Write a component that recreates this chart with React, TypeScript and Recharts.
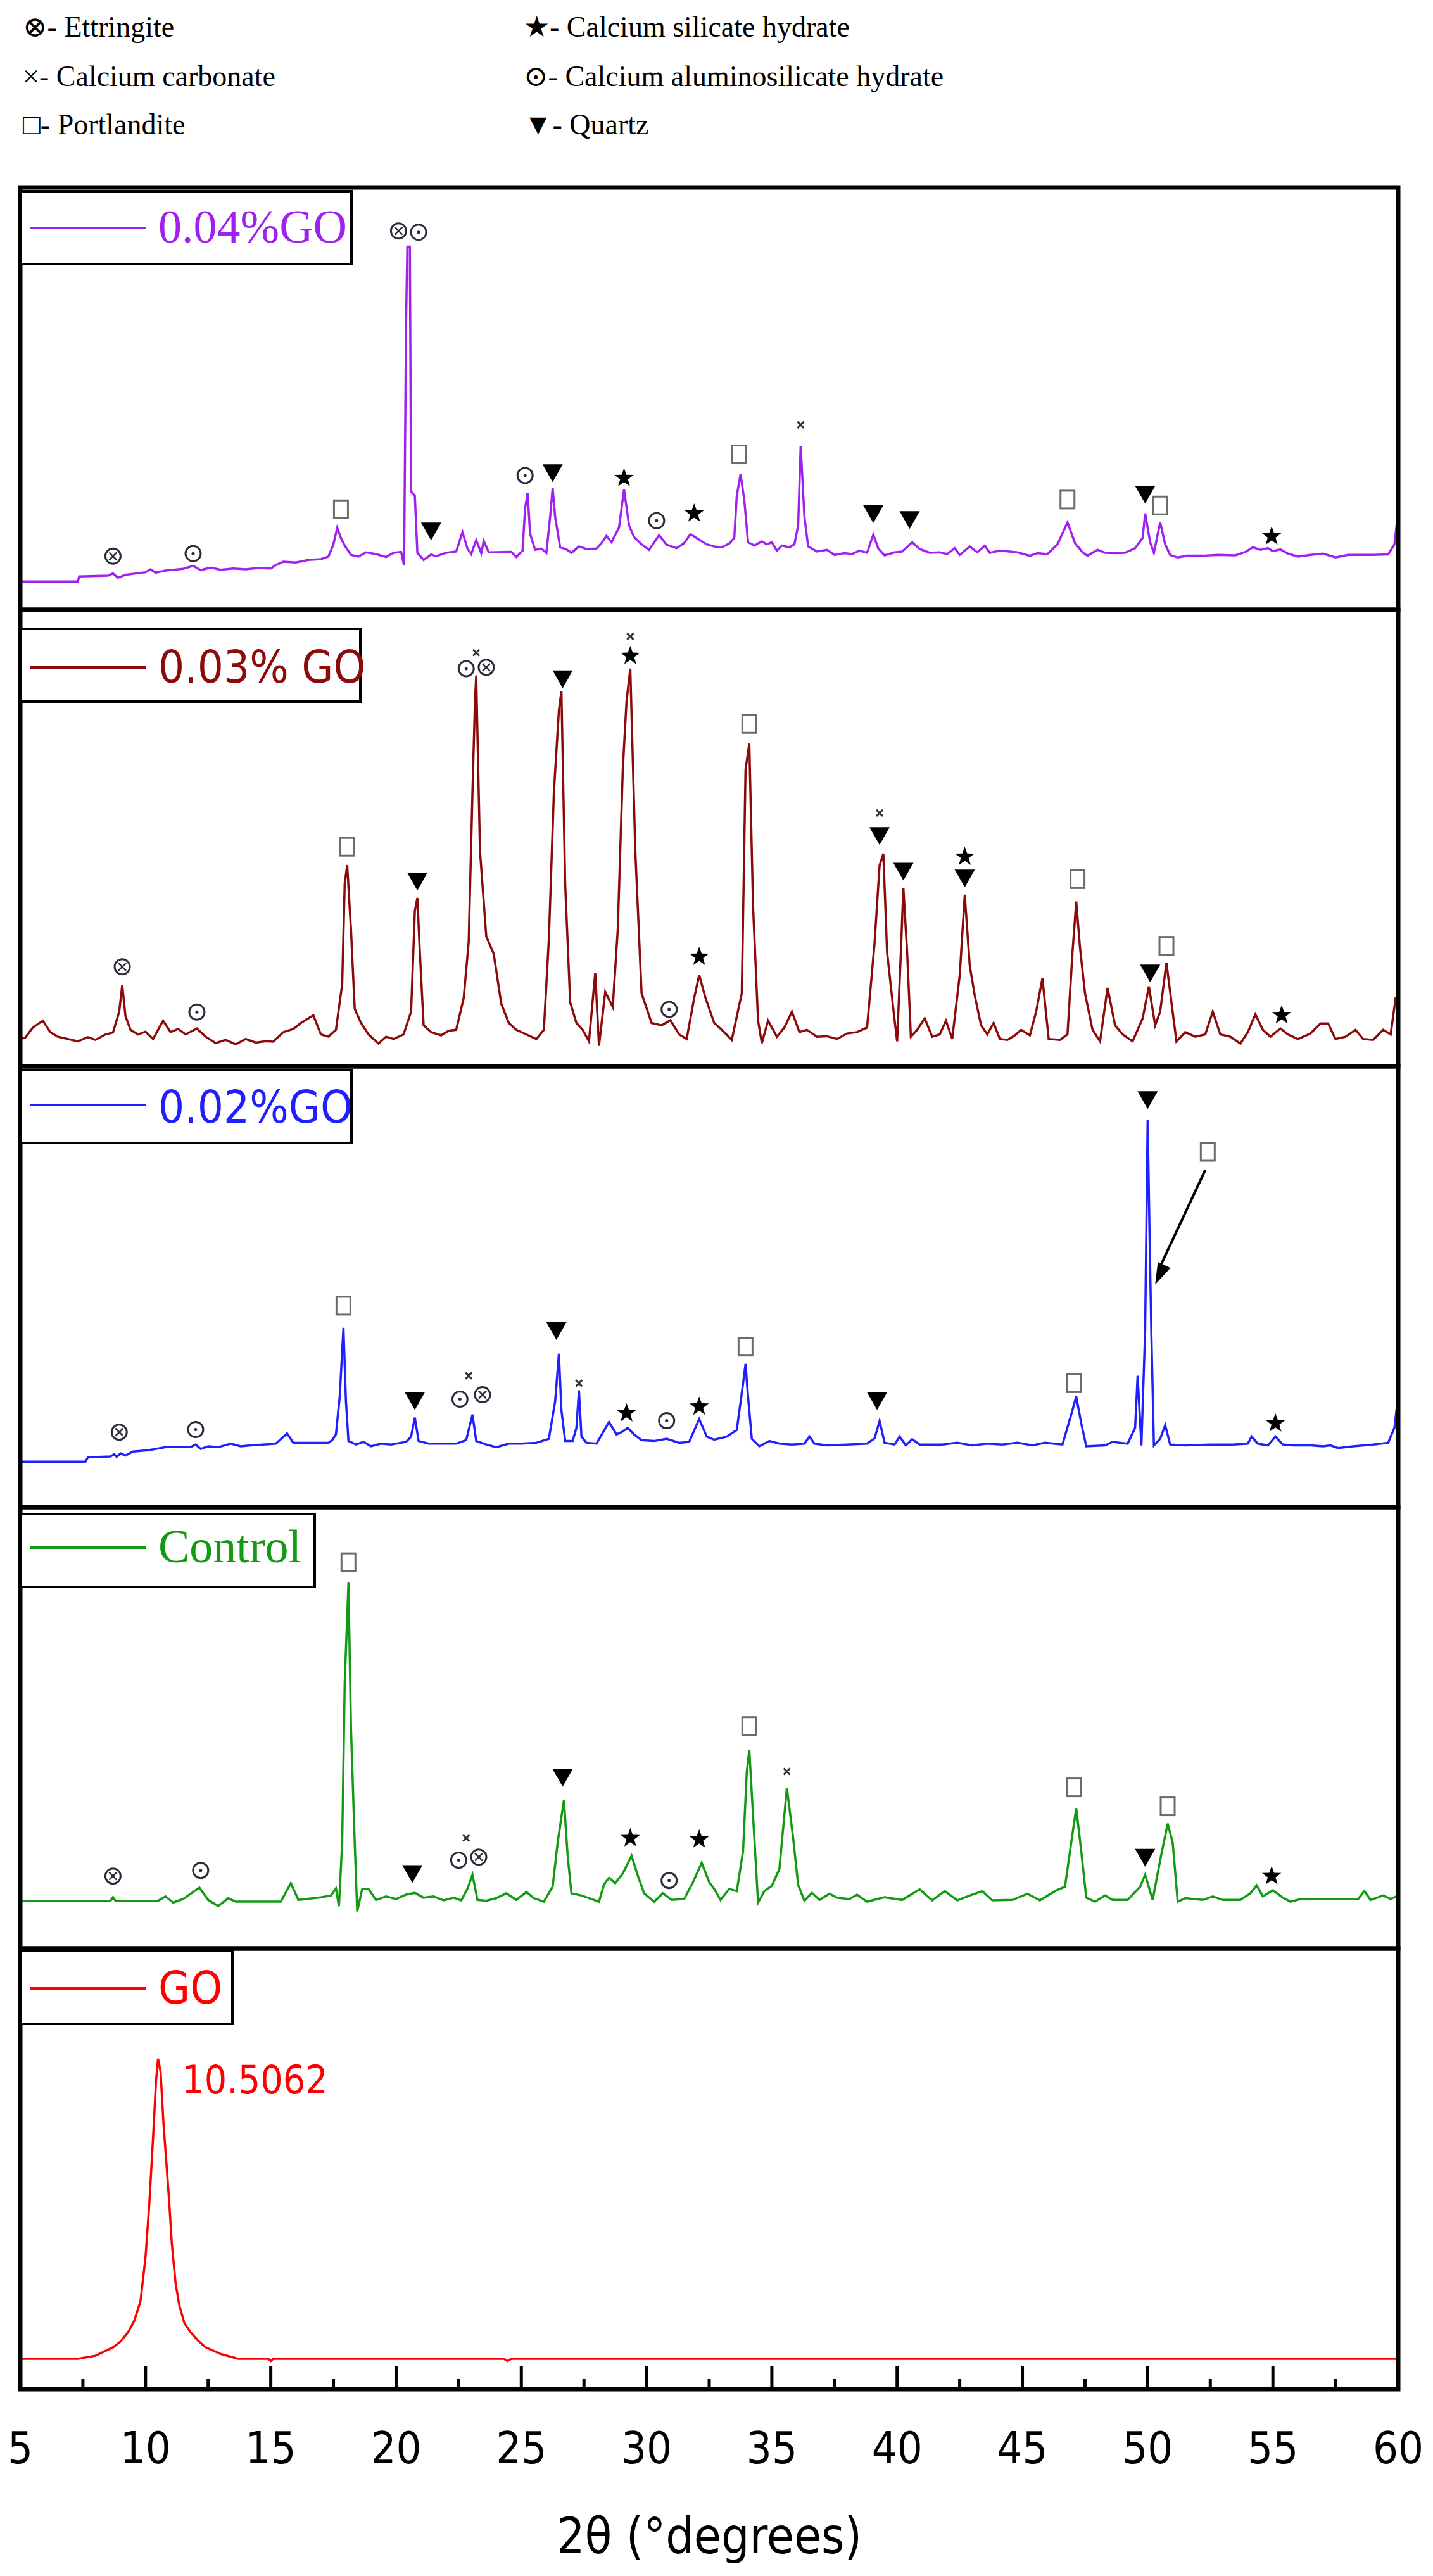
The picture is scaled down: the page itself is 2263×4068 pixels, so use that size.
import React from "react";
import { ComposedChart, Line, Scatter, XAxis, YAxis, ReferenceLine } from "recharts";

const NARROW = "'Liberation Sans Narrow', 'DejaVu Sans Condensed', 'Arial Narrow', sans-serif";
const SERIF = "'Liberation Serif', 'DejaVu Serif', serif";

// 2θ ticks: majors every 5°, minors halfway
const TICKS = [5, 7.5, 10, 12.5, 15, 17.5, 20, 22.5, 25, 27.5, 30, 32.5, 35, 37.5, 40, 42.5, 45, 47.5, 50, 52.5, 55, 57.5, 60];

// traces: [2θ, relative intensity (0..100 of panel height)]
const GO04: [number, number][] = [
  [5, 6.7], [7.3, 6.7], [7.35, 7.9], [8.5, 8.1], [8.7, 8.6], [8.9, 7.6], [9.2, 8.3], [9.6, 8.6], [10, 8.9], [10.2, 9.6],
  [10.4, 8.8], [10.8, 9.3], [11.5, 9.7], [11.9, 10.4], [12.2, 9.4], [12.6, 10.0], [13, 9.5], [13.5, 9.8], [14, 9.6], [14.5, 9.9],
  [15, 9.8], [15.2, 10.6], [15.5, 11.4], [16, 11.2], [16.5, 11.8], [17, 12.0], [17.3, 12.6], [17.5, 15.5], [17.65, 19.4], [17.8, 17.0],
  [17.95, 15.2], [18.2, 13.0], [18.5, 12.6], [18.8, 13.6], [19.2, 13.2], [19.6, 12.5], [19.9, 13.5], [20.2, 13.7], [20.32, 10.5], [20.4, 68],
  [20.45, 86], [20.55, 86], [20.6, 28], [20.75, 27], [20.85, 13.5], [21.1, 11.8], [21.4, 13.1], [21.6, 12.7], [22, 13.5], [22.4, 13.8],
  [22.65, 18.4], [22.85, 14.5], [23.0, 13.2], [23.2, 16.5], [23.4, 13.4], [23.5, 16.3], [23.7, 13.6], [24.6, 13.7], [24.8, 12.5], [25.05, 14.0],
  [25.15, 24], [25.25, 27.7], [25.35, 18], [25.55, 14.2], [25.8, 14.5], [26.0, 13.5], [26.15, 22], [26.25, 28.8], [26.35, 22], [26.55, 14.8],
  [26.8, 14.3], [27, 13.5], [27.3, 15], [27.6, 14.4], [28.0, 14.5], [28.2, 15.8], [28.4, 17.5], [28.6, 16.0], [28.9, 19.5], [29.1, 28.5],
  [29.3, 20.0], [29.5, 17.2], [29.8, 15.5], [30.1, 14.2], [30.5, 17.7], [30.8, 15.4], [31.2, 14.6], [31.5, 15.8], [31.75, 17.9], [32.1, 16.6],
  [32.4, 15.5], [32.7, 15.0], [33.0, 14.8], [33.3, 15.7], [33.5, 17.0], [33.6, 27], [33.75, 32.1], [33.9, 26], [34.05, 16.0], [34.3, 15.2],
  [34.6, 16.2], [34.8, 15.5], [35.0, 16.0], [35.2, 14.0], [35.4, 15.2], [35.7, 14.8], [35.9, 15.5], [36.05, 20], [36.15, 38.8], [36.3, 22],
  [36.45, 15.0], [36.8, 13.8], [37.2, 14.2], [37.5, 13.0], [37.9, 13.4], [38.2, 13.2], [38.5, 14.0], [38.8, 13.5], [39.05, 17.8], [39.25, 14.5],
  [39.5, 12.9], [39.9, 13.6], [40.2, 13.8], [40.6, 16.0], [40.9, 14.4], [41.3, 13.5], [41.7, 13.6], [42.0, 13.2], [42.3, 14.6], [42.5, 13.0],
  [42.9, 15.0], [43.2, 13.6], [43.5, 15.2], [43.7, 13.5], [44.1, 14.0], [44.8, 13.6], [45.3, 12.8], [45.6, 13.4], [46.0, 13.2], [46.4, 15.5],
  [46.8, 20.7], [47.1, 15.8], [47.4, 13.6], [47.6, 12.8], [48.0, 14.2], [48.3, 13.5], [48.7, 13.4], [49.1, 13.5], [49.5, 14.6], [49.8, 17.0],
  [49.9, 22.8], [50.1, 16.0], [50.25, 13.5], [50.5, 20.7], [50.7, 15.5], [50.9, 13.0], [51.2, 12.4], [51.6, 12.8], [52.2, 12.8], [52.8, 13.0],
  [53.5, 12.9], [53.9, 13.7], [54.2, 14.8], [54.5, 14.2], [54.8, 14.6], [55.0, 13.9], [55.3, 14.3], [55.6, 13.3], [56.0, 12.6], [56.5, 13.0],
  [57.0, 13.3], [57.5, 12.4], [58.0, 13.0], [59.0, 13.0], [59.6, 13.1], [59.85, 15.5], [59.95, 20.7], [60, 20.7],
];

const GO03: [number, number][] = [
  [5.0, 6.0], [5.2, 6.3], [5.5, 8.5], [5.9, 10.0], [6.2, 7.5], [6.5, 6.5], [6.9, 6.0], [7.3, 5.5], [7.7, 6.4], [8.0, 5.8],
  [8.4, 7.0], [8.7, 7.4], [8.95, 12], [9.07, 17.8], [9.2, 11], [9.4, 8.0], [9.7, 7.0], [10.0, 7.6], [10.3, 6.0], [10.7, 10.0],
  [11.0, 7.5], [11.3, 8.2], [11.6, 7.0], [12.05, 8.3], [12.4, 6.5], [12.8, 5.1], [13.2, 5.8], [13.6, 4.8], [14.0, 6.0], [14.4, 5.2],
  [14.8, 5.5], [15.1, 5.4], [15.5, 7.5], [15.9, 8.2], [16.2, 9.5], [16.7, 11.2], [17.0, 7.0], [17.3, 6.5], [17.6, 8.0], [17.85, 18],
  [17.95, 40], [18.05, 44.1], [18.2, 30], [18.35, 12.6], [18.6, 9.5], [18.9, 7.0], [19.3, 5.0], [19.6, 6.5], [19.9, 6.0], [20.3, 7.0],
  [20.6, 12], [20.75, 34], [20.85, 36.9], [20.95, 25], [21.1, 9.0], [21.4, 7.5], [21.8, 6.8], [22.1, 7.8], [22.4, 8.0], [22.7, 15],
  [22.9, 27.3], [23.05, 60], [23.15, 80], [23.2, 85.6], [23.35, 47.2], [23.6, 28.5], [23.9, 24.6], [24.2, 13.7], [24.5, 9.5], [24.8, 8.0],
  [25.2, 7.0], [25.6, 6.0], [25.9, 8.0], [26.1, 28], [26.3, 60], [26.5, 78], [26.6, 82.2], [26.75, 40], [26.95, 14], [27.2, 9.5],
  [27.45, 8.0], [27.7, 5.5], [27.95, 20.5], [28.1, 4.5], [28.35, 16.3], [28.65, 13], [28.85, 30], [29.05, 65], [29.2, 80], [29.35, 87.1],
  [29.55, 47.2], [29.8, 16], [30.2, 9.5], [30.6, 9.0], [30.95, 10.1], [31.3, 7.0], [31.6, 6.0], [31.9, 15], [32.1, 20.0], [32.35, 15],
  [32.7, 9.5], [33.1, 7.5], [33.4, 5.8], [33.8, 16], [33.95, 65], [34.1, 70.7], [34.25, 35], [34.45, 10], [34.6, 5.1], [34.85, 10.0],
  [35.2, 6.5], [35.5, 8.5], [35.8, 12.0], [36.1, 7.5], [36.4, 8.0], [36.8, 6.5], [37.2, 6.6], [37.6, 6.0], [38.0, 7.2], [38.4, 7.5],
  [38.8, 8.5], [39.1, 27], [39.3, 44], [39.45, 46.6], [39.6, 25], [39.85, 12.5], [40.0, 5.5], [40.15, 25], [40.25, 39.1], [40.4, 25],
  [40.55, 6.5], [40.8, 8.0], [41.1, 10.5], [41.4, 6.5], [41.7, 7.0], [41.95, 10.0], [42.2, 6.0], [42.5, 20], [42.7, 37.6], [42.9, 22],
  [43.1, 15.5], [43.35, 9.0], [43.6, 7.0], [43.85, 9.5], [44.1, 6.0], [44.4, 5.8], [44.7, 6.8], [44.95, 8.0], [45.3, 6.8], [45.55, 12],
  [45.8, 19.3], [46.05, 6.0], [46.5, 5.8], [46.8, 7.0], [47.0, 25], [47.15, 36.1], [47.3, 26], [47.5, 16], [47.8, 8.0], [48.1, 5.5],
  [48.4, 17.2], [48.7, 9.0], [49.0, 7.0], [49.4, 5.5], [49.8, 10.5], [50.05, 17.5], [50.3, 9.0], [50.5, 12], [50.75, 22.7], [50.95, 14],
  [51.15, 5.5], [51.5, 7.5], [51.9, 6.5], [52.3, 7.0], [52.6, 12.0], [52.9, 7.0], [53.3, 6.5], [53.7, 5.0], [54.0, 7.5], [54.3, 11.4],
  [54.6, 8.0], [54.9, 6.5], [55.3, 8.3], [55.6, 7.0], [56.0, 6.0], [56.5, 7.2], [56.9, 9.4], [57.2, 9.4], [57.5, 6.0], [57.9, 6.5],
  [58.3, 8.0], [58.6, 6.0], [59.0, 5.8], [59.4, 8.0], [59.7, 7.0], [59.9, 15.0], [60, 15],
];

const GO02: [number, number][] = [
  [5.0, 10.3], [7.6, 10.3], [7.7, 11.3], [8.6, 11.5], [8.75, 12.0], [8.85, 11.4], [9.0, 12.2], [9.2, 11.7], [9.5, 12.6], [10.1, 12.9],
  [10.8, 13.6], [11.8, 13.6], [12.0, 14.2], [12.2, 13.2], [12.5, 13.8], [12.9, 13.6], [13.4, 14.4], [13.8, 13.8], [14.2, 14.0], [14.7, 14.2],
  [15.2, 14.4], [15.65, 16.7], [15.9, 14.6], [16.5, 14.6], [17.3, 14.6], [17.45, 15.2], [17.6, 16.5], [17.75, 25], [17.9, 40.7], [18.0, 24],
  [18.1, 15.0], [18.4, 14.2], [18.7, 14.8], [19.0, 13.8], [19.4, 14.4], [19.8, 14.2], [20.4, 14.8], [20.6, 16.0], [20.75, 20.3], [20.9, 15.0],
  [21.3, 14.4], [22.4, 14.4], [22.8, 15.2], [23.05, 21.0], [23.2, 15.0], [23.6, 14.2], [24.0, 13.6], [24.5, 14.4], [25.0, 14.4], [25.6, 14.6],
  [26.1, 15.5], [26.35, 24], [26.5, 34.8], [26.6, 22], [26.75, 15.0], [27.05, 15.0], [27.2, 18], [27.3, 26.5], [27.4, 16], [27.6, 14.6],
  [28.0, 14.4], [28.5, 19.3], [28.8, 16.5], [29.0, 17.0], [29.25, 18.0], [29.5, 16.5], [29.8, 15.2], [30.3, 15.0], [30.8, 15.5], [31.3, 14.6],
  [31.7, 14.8], [32.1, 20.0], [32.4, 16.0], [32.7, 15.3], [33.2, 16.0], [33.6, 17.5], [33.85, 28], [33.95, 32.5], [34.05, 25], [34.2, 15.5],
  [34.5, 13.8], [34.9, 15.0], [35.3, 14.4], [35.8, 14.2], [36.3, 14.4], [36.5, 16.0], [36.7, 14.4], [37.2, 14.0], [38.0, 14.2], [38.8, 14.4],
  [39.1, 15.6], [39.3, 19.5], [39.5, 14.6], [39.9, 14.2], [40.1, 16.0], [40.35, 14.0], [40.6, 15.4], [40.9, 14.2], [41.8, 14.2], [42.4, 14.6],
  [43.0, 14.0], [43.6, 14.4], [44.2, 14.2], [44.8, 14.6], [45.4, 14.0], [45.9, 14.6], [46.6, 14.2], [46.95, 21], [47.15, 25.1], [47.35, 19],
  [47.55, 13.8], [48.3, 14.0], [48.6, 14.8], [49.2, 14.4], [49.5, 18], [49.6, 29.8], [49.75, 14.0], [49.9, 40], [50.0, 87.8], [50.08, 60.8],
  [50.15, 39], [50.25, 14.0], [50.5, 15.5], [50.7, 18.6], [50.9, 14.2], [51.5, 14.0], [52.5, 14.2], [53.4, 14.2], [54.0, 14.4], [54.15, 16.0],
  [54.4, 14.4], [54.8, 14.0], [55.1, 16.0], [55.4, 14.2], [55.8, 14.0], [56.5, 14.0], [57.0, 13.8], [57.3, 14.0], [57.6, 13.4], [58.2, 13.8],
  [59.0, 14.2], [59.6, 14.6], [59.85, 18], [59.95, 22.8], [60, 22.8],
];

const CONTROL: [number, number][] = [
  [5.0, 10.8], [8.6, 10.8], [8.7, 11.6], [8.8, 10.8], [10.5, 10.8], [10.8, 11.8], [11.1, 10.4], [11.5, 11.2], [12.15, 13.8], [12.5, 11.0],
  [12.9, 9.6], [13.3, 11.4], [13.6, 10.6], [14.2, 10.6], [15.4, 10.6], [15.8, 14.8], [16.1, 11.0], [17.0, 11.6], [17.4, 12.0], [17.6, 13.6],
  [17.72, 9.6], [17.85, 24], [17.95, 60], [18.1, 82.9], [18.2, 50], [18.35, 24], [18.45, 8.4], [18.65, 13.5], [18.9, 13.5], [19.2, 11.0],
  [19.6, 11.8], [20.0, 11.2], [20.4, 12.2], [20.75, 12.6], [21.1, 11.5], [21.5, 11.8], [21.9, 10.9], [22.3, 11.5], [22.6, 10.9], [22.85, 13.5],
  [23.05, 16.7], [23.25, 11.0], [23.6, 10.8], [24.0, 11.4], [24.4, 12.5], [24.8, 11.0], [25.2, 12.8], [25.5, 11.4], [25.9, 10.6], [26.25, 14],
  [26.45, 24], [26.7, 33.6], [26.85, 21], [27.0, 12.5], [27.4, 12.0], [27.8, 11.2], [28.1, 10.6], [28.3, 14.5], [28.5, 16.0], [28.75, 14.8],
  [29.05, 17], [29.4, 21.0], [29.65, 16.5], [29.9, 12.5], [30.3, 10.6], [30.65, 12.5], [31.0, 11.0], [31.5, 11.2], [31.85, 15], [32.2, 19.4],
  [32.5, 15.0], [32.7, 13.5], [32.95, 11.0], [33.3, 13.5], [33.6, 13.0], [33.85, 22], [34.0, 40], [34.1, 45.0], [34.25, 30], [34.45, 10.4],
  [34.7, 13.0], [35.0, 14.2], [35.3, 18], [35.6, 36.4], [35.85, 25], [36.05, 14.4], [36.3, 10.8], [36.6, 12.6], [36.9, 11.0], [37.3, 12.4],
  [37.6, 11.5], [38.1, 11.2], [38.4, 12.2], [38.8, 10.6], [39.2, 11.2], [39.5, 11.6], [40.2, 11.0], [40.9, 13.4], [41.4, 10.9], [41.9, 13.0],
  [42.4, 10.9], [42.9, 12.0], [43.4, 13.0], [43.8, 10.9], [44.6, 11.0], [45.2, 12.4], [45.7, 10.9], [46.3, 13.0], [46.7, 14], [46.95, 24],
  [47.15, 31.8], [47.35, 22], [47.55, 11.5], [47.9, 10.6], [48.3, 12.0], [48.6, 11.0], [49.2, 11.0], [49.7, 14.0], [49.9, 16.7], [50.2, 11.0],
  [50.5, 20], [50.8, 28.3], [51.0, 24], [51.2, 10.6], [51.5, 11.4], [52.2, 11.0], [52.6, 11.8], [53.0, 11.0], [53.7, 11.0], [54.1, 12.5],
  [54.35, 14.3], [54.6, 11.8], [55.0, 13.2], [55.4, 11.5], [55.7, 10.6], [56.1, 11.2], [57.0, 11.2], [57.6, 11.2], [58.4, 11.2], [58.65, 13.0],
  [58.9, 11.0], [59.4, 12.0], [59.7, 11.2], [60.0, 12.0],
];

const GO: [number, number][] = [
  [5, 6.9], [7.3, 6.9], [8.0, 7.6], [8.7, 9.5], [9.0, 10.8], [9.3, 12.9], [9.55, 15.5], [9.8, 20], [10.0, 30], [10.15, 42],
  [10.3, 57], [10.42, 70], [10.5, 75], [10.6, 72], [10.72, 60], [10.85, 50], [10.95, 42], [11.05, 33], [11.2, 24], [11.35, 19],
  [11.55, 15], [11.8, 12.9], [12.1, 11], [12.4, 9.5], [13.0, 8.0], [13.7, 6.9], [14.9, 6.9], [15.0, 6.4], [15.1, 6.9], [24.3, 6.9],
  [24.45, 6.4], [24.6, 6.9], [60, 6.9],
];

// peak markers: [2θ, height, phase]
type Peak = [number, number, string];
const GO04_PEAKS: Peak[] = [
  [8.7, 12.7, "ett"], [11.9, 13.3, "cash"], [17.8, 23.8, "port"], [20.1, 89.7, "ett"], [20.9, 89.4, "cash"], [21.4, 18.7, "qtz"],
  [25.15, 31.8, "cash"], [26.25, 32.5, "qtz"], [29.1, 31.2, "csh"], [30.4, 21.1, "cash"], [31.9, 22.8, "csh"], [33.7, 36.8, "port"],
  [36.15, 43.8, "cc"], [39.05, 22.8, "qtz"], [40.5, 21.4, "qtz"], [46.8, 26.1, "port"], [49.9, 27.4, "qtz"], [50.5, 24.7, "port"],
  [54.95, 17.4, "csh"],
];
const GO03_PEAKS: Peak[] = [
  [9.07, 21.8, "ett"], [12.05, 11.9, "cash"], [18.05, 48.1, "port"], [20.85, 40.6, "qtz"], [22.8, 87.1, "cash"], [23.6, 87.4, "ett"],
  [23.2, 90.6, "cc"], [26.65, 84.9, "qtz"], [29.35, 89.9, "csh"], [29.35, 94.2, "cc"], [30.9, 12.5, "cash"], [32.1, 24.0, "csh"],
  [34.1, 75.0, "port"], [39.3, 55.5, "cc"], [39.3, 50.6, "qtz"], [40.25, 42.8, "qtz"], [42.7, 45.9, "csh"], [42.7, 41.3, "qtz"],
  [47.2, 41.0, "port"], [50.1, 20.5, "qtz"], [50.75, 26.4, "port"], [55.35, 11.2, "csh"],
];
const GO02_PEAKS: Peak[] = [
  [8.95, 17.0, "ett"], [12.0, 17.6, "cash"], [17.9, 45.7, "port"], [20.75, 24.2, "qtz"], [22.55, 24.5, "cash"], [23.45, 25.5, "ett"],
  [22.9, 29.8, "cc"], [26.4, 40.1, "qtz"], [27.3, 28.1, "cc"], [29.2, 21.3, "csh"], [30.8, 19.6, "cash"], [32.1, 22.8, "csh"],
  [33.95, 36.4, "port"], [39.2, 24.2, "qtz"], [47.05, 28.1, "port"], [50.0, 92.5, "qtz"], [52.4, 80.6, "port"], [55.1, 19.0, "csh"],
  [50.3, 50.5, "arrow"],
];
const CONTROL_PEAKS: Peak[] = [
  [8.7, 16.4, "ett"], [12.2, 17.7, "cash"], [18.1, 87.5, "port"], [20.65, 17.0, "qtz"], [22.5, 20.0, "cash"], [23.3, 20.7, "ett"],
  [22.8, 25.0, "cc"], [26.65, 38.8, "qtz"], [29.35, 25.0, "csh"], [30.9, 15.4, "cash"], [32.1, 24.7, "csh"], [34.1, 50.4, "port"],
  [35.6, 40.1, "cc"], [47.05, 36.5, "port"], [49.9, 20.7, "qtz"], [50.8, 32.2, "port"], [54.95, 16.4, "csh"],
];
const GO_PEAKS: Peak[] = [[11.45, 67.1, "label:10.5062"]];

const PHASES = [
  { sym: "⊗", name: "Ettringite" },
  { sym: "×", name: "Calcium carbonate" },
  { sym: "□", name: "Portlandite" },
  { sym: "★", name: "Calcium silicate hydrate" },
  { sym: "⊙", name: "Calcium aluminosilicate hydrate" },
  { sym: "▼", name: "Quartz" },
];

const PANELS = [
  { name: "0.04%GO", color: "#A020F0", trace: GO04, peaks: GO04_PEAKS, top: 296, height: 667, font: SERIF, box: [302, 555], lineY: 360, baseY: 383 },
  { name: "0.03% GO", color: "#8B0A0A", trace: GO03, peaks: GO03_PEAKS, top: 963, height: 721, font: NARROW, box: [993, 569], lineY: 1054, baseY: 1078 },
  { name: "0.02%GO", color: "#1F1FFF", trace: GO02, peaks: GO02_PEAKS, top: 1684, height: 696, font: NARROW, box: [1690, 555], lineY: 1745, baseY: 1773 },
  { name: "Control", color: "#129A12", trace: CONTROL, peaks: CONTROL_PEAKS, top: 2380, height: 697, font: SERIF, box: [2391, 497], lineY: 2444, baseY: 2467 },
  { name: "GO", color: "#FF0000", trace: GO, peaks: GO_PEAKS, top: 3077, height: 696, font: NARROW, box: [3081, 367], lineY: 3140, baseY: 3164 },
];

const PLOT_L = 32;
const PLOT_R = 2208;
const AXIS_H = 290;

const star = (cx: number, cy: number, ro: number, ri: number) => {
  const pts: string[] = [];
  for (let i = 0; i < 10; i++) {
    const a = -Math.PI / 2 + (i * Math.PI) / 5;
    const r = i % 2 === 0 ? ro : ri;
    pts.push(`${cx + r * Math.cos(a)},${cy + r * Math.sin(a)}`);
  }
  return pts.join(" ");
};

const PeakMark = (props: any) => {
  const { cx, cy, payload } = props;
  if (cx == null || cy == null) return <g />;
  const kind: string = payload.kind;
  const ink = "#2b2b3a";
  if (kind.startsWith("label:")) {
    return (
      <text x={cx} y={cy} fill="#FF0000" fontSize={62} fontFamily={NARROW}>
        {kind.slice(6)}
      </text>
    );
  }
  switch (kind) {
    case "ett":
      return (
        <g>
          <circle cx={cx} cy={cy} r={12} fill="#fff" stroke={ink} strokeWidth={3} />
          <path d={`M${cx - 6},${cy - 6}L${cx + 6},${cy + 6}M${cx + 6},${cy - 6}L${cx - 6},${cy + 6}`} stroke={ink} strokeWidth={2.5} />
        </g>
      );
    case "cash":
      return (
        <g>
          <circle cx={cx} cy={cy} r={12} fill="#fff" stroke={ink} strokeWidth={3} />
          <circle cx={cx} cy={cy} r={2.5} fill={ink} />
        </g>
      );
    case "port":
      return <rect x={cx - 11} y={cy - 14} width={22} height={28} fill="#fff" stroke="#6b6b6b" strokeWidth={3} />;
    case "csh":
      return <polygon points={star(cx, cy, 16, 6.5)} fill="#000" />;
    case "qtz":
      return <polygon points={`${cx - 16},${cy - 13} ${cx + 16},${cy - 13} ${cx},${cy + 15}`} fill="#000" />;
    case "cc":
      return (
        <path d={`M${cx - 5},${cy - 5}L${cx + 5},${cy + 5}M${cx + 5},${cy - 5}L${cx - 5},${cy + 5}`} stroke="#333" strokeWidth={3} />
      );
    case "arrow": {
      const ang = Math.atan2(174, -80);
      const back = 34;
      const half = 11;
      const bx = cx - back * Math.cos(ang);
      const by = cy - back * Math.sin(ang);
      const px = -Math.sin(ang) * half;
      const py = Math.cos(ang) * half;
      return <polygon points={`${cx},${cy} ${bx + px},${by + py} ${bx - px},${by - py}`} fill="#000" />;
    }
    default:
      return <g />;
  }
};

const TickMark = (props: any) => {
  const { x, y, payload, showLabel } = props;
  const major = payload.value % 5 === 0;
  return (
    <g>
      <line x1={x} x2={x} y1={y} y2={y - (major ? 37 : 16)} stroke="#000" strokeWidth={5} />
      {showLabel && major && (
        <text x={x} y={y + 117} textAnchor="middle" fontSize={70} fontFamily={NARROW} fill="#000">
          {payload.value}
        </text>
      )}
    </g>
  );
};

function Panel({ p, last }: { p: (typeof PANELS)[number]; last: boolean }) {
  const data = p.trace.map(([x, y]) => ({ x, y }));
  const marks = p.peaks.map(([x, y, kind]) => ({ x, y, kind }));
  return (
    <div style={{ position: "absolute", left: 0, top: p.top }}>
      <ComposedChart
        width={2263}
        height={p.height + (last ? AXIS_H : 0)}
        data={data}
        margin={{ top: 0, right: 2263 - PLOT_R, bottom: 0, left: PLOT_L }}
      >
        <XAxis
          dataKey="x"
          type="number"
          domain={[5, 60]}
          ticks={TICKS}
          interval={0}
          allowDataOverflow
          height={last ? AXIS_H : 0}
          tickSize={0}
          tickMargin={0}
          tickLine={false}
          axisLine={false}
          tick={(t: any) => <TickMark {...t} showLabel={last} />}
          label={
            last
              ? { value: "2θ (°degrees)", position: "insideBottom", offset: 31, fontSize: 78, fill: "#000", fontFamily: NARROW }
              : undefined
          }
        />
        <YAxis dataKey="y" type="number" domain={[0, 100]} hide allowDataOverflow />
        <Line dataKey="y" type="linear" stroke={p.color} strokeWidth={3.5} dot={false} isAnimationActive={false} />
        {p.name === "0.02%GO" && (
          <ReferenceLine
            segment={[
              { x: 52.3, y: 76.5 },
              { x: 50.45, y: 54 },
            ]}
            stroke="#000"
            strokeWidth={4}
          />
        )}
        <Scatter data={marks} dataKey="y" shape={PeakMark} isAnimationActive={false} />
      </ComposedChart>
    </div>
  );
}

export default function App() {
  return (
    <div style={{ position: "absolute", left: 0, top: 0, width: 2263, height: 4068, background: "#fff" }}>
      {PANELS.map((p, i) => (
        <Panel key={p.name} p={p} last={i === PANELS.length - 1} />
      ))}
      <svg width={2263} height={4068} style={{ position: "absolute", left: 0, top: 0, pointerEvents: "none" }}>
        {PHASES.map((ph, i) => {
          const col = Math.floor(i / 3);
          const row = i % 3;
          return (
            <text
              key={ph.name}
              x={col === 0 ? 36 : 827}
              y={[58, 136, 212][row]}
              fontSize={46}
              fontFamily={SERIF}
              fill="#000"
            >
              {ph.sym}- {ph.name}
            </text>
          );
        })}
        {PANELS.map((p) => (
          <g key={p.name}>
            <rect x={PLOT_L} y={p.top} width={PLOT_R - PLOT_L} height={p.height} fill="none" stroke="#000" strokeWidth={7} />
            <rect x={PLOT_L} y={p.box[0]} width={p.box[1] - PLOT_L} height={115} fill="#fff" stroke="#000" strokeWidth={4} />
            <line x1={47} x2={230} y1={p.lineY} y2={p.lineY} stroke={p.color} strokeWidth={4} />
            <text x={250} y={p.baseY} fontSize={p.font === SERIF ? 74 : 72} fontFamily={p.font} fill={p.color}>
              {p.name}
            </text>
          </g>
        ))}
      </svg>
    </div>
  );
}
